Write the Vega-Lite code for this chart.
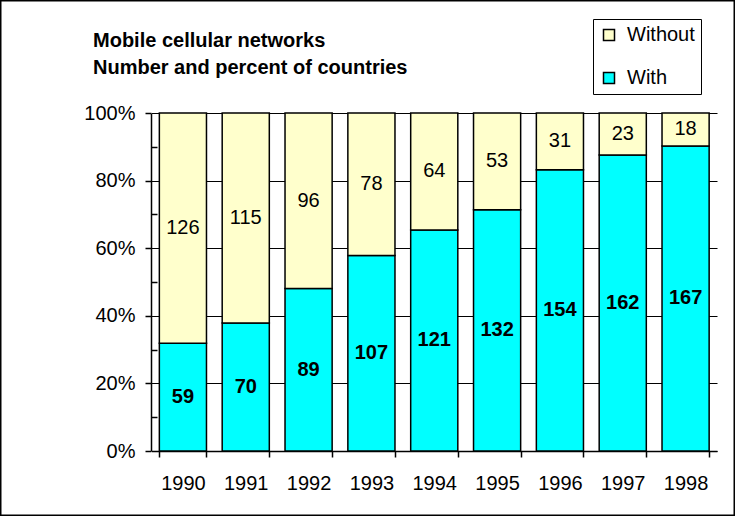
{
  "$schema": "https://vega.github.io/schema/vega-lite/v6.json",
  "width": 735,
  "height": 516,
  "autosize": {"type": "none"},
  "padding": 0,
  "background": "white",
  "title": {
    "text": ["Mobile cellular networks", "Number and percent of countries"],
    "anchor": "start",
    "frame": "group",
    "font": "Liberation Sans",
    "fontSize": 20,
    "fontWeight": "bold",
    "color": "black",
    "lineHeight": 27,
    "offset": 0,
    "dx": 93,
    "dy": 78
  },
  "data": {
    "values": [
      {"year": "1990", "series": "With", "count": 59},
      {"year": "1990", "series": "Without", "count": 126},
      {"year": "1991", "series": "With", "count": 70},
      {"year": "1991", "series": "Without", "count": 115},
      {"year": "1992", "series": "With", "count": 89},
      {"year": "1992", "series": "Without", "count": 96},
      {"year": "1993", "series": "With", "count": 107},
      {"year": "1993", "series": "Without", "count": 78},
      {"year": "1994", "series": "With", "count": 121},
      {"year": "1994", "series": "Without", "count": 64},
      {"year": "1995", "series": "With", "count": 132},
      {"year": "1995", "series": "Without", "count": 53},
      {"year": "1996", "series": "With", "count": 154},
      {"year": "1996", "series": "Without", "count": 31},
      {"year": "1997", "series": "With", "count": 162},
      {"year": "1997", "series": "Without", "count": 23},
      {"year": "1998", "series": "With", "count": 167},
      {"year": "1998", "series": "Without", "count": 18}
    ]
  },
  "layer": [
    {
      "mark": {"type": "bar", "stroke": "black", "strokeWidth": 1.5},
      "encoding": {
        "x": {
          "field": "year",
          "type": "ordinal",
          "scale": {"range": [151.5, 717], "paddingInner": 0.25, "paddingOuter": 0.125},
          "axis": {
            "orient": "bottom",
            "offset": -65,
            "tickBand": "extent",
            "title": null,
            "labelAngle": 0,
            "labelFontSize": 20,
            "labelColor": "black",
            "labelPadding": 16,
            "tickColor": "black",
            "tickSize": 6,
            "tickWidth": 1.5,
            "domainColor": "black",
            "domainWidth": 1.5,
            "grid": false
          }
        },
        "y": {
          "field": "count",
          "type": "quantitative",
          "stack": "normalize",
          "scale": {"domain": [0, 1], "range": [451, 113], "nice": false},
          "axis": {
            "orient": "left",
            "offset": -151,
            "values": [0, 0.2, 0.4, 0.6, 0.8, 1],
            "format": ".0%",
            "title": null,
            "labelFontSize": 20,
            "labelColor": "black",
            "labelPadding": 10,
            "tickColor": "black",
            "tickSize": 6,
            "tickWidth": 1.5,
            "domainColor": "black",
            "domainWidth": 1.5,
            "grid": true,
            "gridColor": "black",
            "gridWidth": 1.2,
            "gridOpacity": 1
          }
        },
        "color": {
          "field": "series",
          "type": "nominal",
          "scale": {"domain": ["Without", "With"], "range": ["#FFFFCC", "#00FFFF"]},
          "legend": {
            "orient": "none",
            "legendX": 593,
            "legendY": 19,
            "title": null,
            "strokeColor": "black",
            "fillColor": "white",
            "padding": 6,
            "symbolType": "square",
            "symbolSize": 121,
            "symbolStrokeColor": "black",
            "symbolStrokeWidth": 1.5,
            "symbolOpacity": 1,
            "labelFontSize": 20,
            "labelColor": "black",
            "labelOffset": 8,
            "rowPadding": 23
          }
        },
        "order": {"field": "series", "sort": "ascending"}
      }
    },
    {
      "mark": {"type": "text", "fontSize": 20, "fontWeight": "bold", "baseline": "middle", "align": "center", "color": "black"},
      "encoding": {
        "x": {"field": "year", "type": "ordinal"},
        "y": {
          "field": "count",
          "type": "quantitative",
          "stack": "normalize",
          "bandPosition": 0.5,
          "axis": {
            "orient": "left",
            "offset": -151,
            "values": [0.1, 0.3, 0.5, 0.7, 0.9],
            "labels": false,
            "domain": false,
            "grid": false,
            "title": null,
            "tickColor": "black",
            "tickSize": -6,
            "tickWidth": 1.5
          }
        },
        "detail": {"field": "series"},
        "order": {"field": "series", "sort": "ascending"},
        "text": {
          "condition": {"test": "datum.series === 'With'", "field": "count", "type": "quantitative"},
          "value": ""
        }
      }
    },
    {
      "mark": {"type": "text", "fontSize": 20, "fontWeight": "normal", "baseline": "middle", "align": "center", "color": "black"},
      "encoding": {
        "x": {"field": "year", "type": "ordinal"},
        "y": {
          "field": "count",
          "type": "quantitative",
          "stack": "normalize",
          "bandPosition": 0.5,
          "axis": null
        },
        "detail": {"field": "series"},
        "order": {"field": "series", "sort": "ascending"},
        "text": {
          "condition": {"test": "datum.series === 'Without'", "field": "count", "type": "quantitative"},
          "value": ""
        }
      }
    }
  ],
  "resolve": {"axis": {"y": "independent"}},
  "config": {
    "font": "Liberation Sans",
    "view": {"stroke": "black", "strokeWidth": 3},
    "axis": {"labelFont": "Liberation Sans"},
    "legend": {"labelFont": "Liberation Sans"}
  }
}
